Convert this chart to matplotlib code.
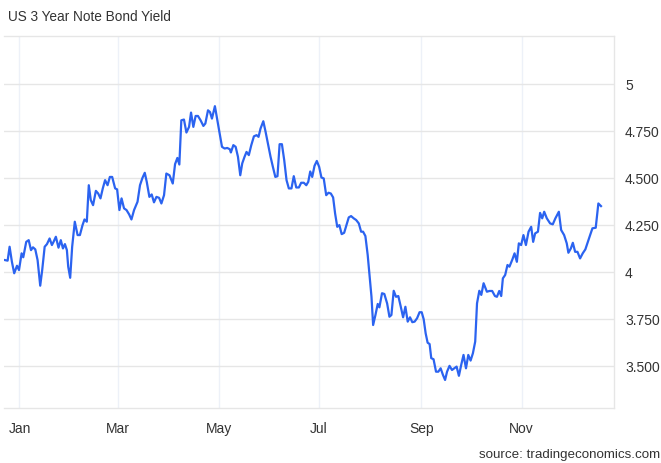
import matplotlib
matplotlib.use("Agg")
import matplotlib.pyplot as plt

# days since 2024-01-01
days = [-8.8, -7.2, -6.0, -4.6, -3.2, -1.5, -0.3, 1.3, 2.3, 4.1, 5.6, 7.0, 8.2, 9.6, 11.0, 12.6, 13.8, 15.3, 16.7, 18.3,
        19.7, 20.7, 22.1, 23.7, 25.1, 26.4, 27.6, 28.8, 29.6, 30.8, 32.0, 33.6, 35.3, 36.7, 38.3, 39.5, 40.9, 42.1, 43.3, 44.7,
        46.4, 47.8, 49.2, 50.6, 52.0, 53.5, 54.9, 56.3, 58.1, 59.3, 60.7, 62.0, 63.5, 65.0, 66.6, 68.0, 69.6, 71.7, 73.2, 74.7,
        76.1, 77.3, 78.9, 80.3, 81.7, 83.2, 84.8, 86.2, 87.8, 89.2, 91.1, 93.1, 94.5, 95.9, 97.1, 98.3, 99.9, 101.4, 103.0, 104.2,
        105.6, 107.0, 108.4, 110.0, 111.7, 112.9, 114.5, 115.7, 116.9, 118.7, 120.2, 121.8, 123.0, 124.6, 126.2, 127.8, 128.4, 129.9, 131.3, 132.7,
        134.1, 135.3, 136.7, 137.9, 139.3, 140.8, 142.4, 144.0, 145.2, 146.4, 148.1, 149.5, 150.9, 152.5, 153.9, 155.4, 156.7, 158.0, 159.4, 160.8,
        162.2, 163.6, 165.2, 166.6, 168.1, 169.7, 171.1, 172.7, 174.2, 175.4, 176.6, 177.8, 179.2, 180.6, 182.0, 183.4, 184.8, 186.3, 187.7, 189.1,
        190.5, 191.7, 193.0, 194.3, 195.7, 197.2, 198.6, 200.0, 201.4, 203.0, 204.5, 206.1, 207.5, 208.7, 210.1, 211.5, 212.7, 213.8, 214.8, 216.2,
        217.6, 218.6, 220.2, 221.6, 223.3, 224.7, 225.9, 227.3, 228.7, 230.1, 231.5, 233.0, 234.4, 235.8, 237.2, 238.6, 240.0, 241.5, 243.0, 244.3,
        245.5, 246.7, 247.9, 249.1, 250.1, 251.5, 253.0, 254.4, 255.8, 257.2, 258.5, 259.7, 261.2, 262.7, 264.1, 265.5, 266.9, 268.3, 269.7, 271.2,
        272.6, 274.0, 275.4, 276.8, 277.9, 279.3, 280.5, 281.9, 283.9, 285.5, 287.1, 288.8, 290.0, 291.4, 292.6, 293.6, 295.0, 296.4, 297.6, 299.4,
        300.7, 302.1, 303.3, 304.7, 306.1, 307.6, 309.2, 310.8, 312.0, 313.2, 314.9, 316.2, 317.5, 318.7, 320.3, 322.3, 323.9, 325.5, 327.6, 329.0,
        330.8, 332.4, 333.4, 334.9, 336.1, 337.5, 338.9, 340.5, 342.1, 343.7, 344.9, 346.6, 348.0, 350.0, 351.6, 353.2]

yields = [4.065, 4.062, 4.136, 4.056, 3.995, 4.035, 4.012, 4.101, 4.080, 4.162, 4.171, 4.118, 4.133, 4.122, 4.065, 3.929, 4.012, 4.136, 4.150, 4.180,
          4.145, 4.162, 4.189, 4.131, 4.171, 4.127, 4.150, 4.118, 4.030, 3.971, 4.136, 4.269, 4.198, 4.198, 4.251, 4.281, 4.269, 4.463, 4.384, 4.357,
          4.433, 4.419, 4.393, 4.446, 4.490, 4.463, 4.507, 4.507, 4.446, 4.441, 4.331, 4.393, 4.340, 4.331, 4.308, 4.281, 4.331, 4.375, 4.463, 4.502,
          4.529, 4.481, 4.401, 4.414, 4.372, 4.401, 4.396, 4.366, 4.410, 4.525, 4.516, 4.472, 4.575, 4.608, 4.573, 4.808, 4.812, 4.743, 4.773, 4.849,
          4.773, 4.831, 4.831, 4.808, 4.778, 4.791, 4.861, 4.852, 4.817, 4.883, 4.808, 4.729, 4.667, 4.658, 4.661, 4.654, 4.637, 4.676, 4.667, 4.614,
          4.516, 4.579, 4.614, 4.640, 4.623, 4.676, 4.723, 4.729, 4.720, 4.764, 4.803, 4.746, 4.685, 4.614, 4.561, 4.507, 4.511, 4.681, 4.681, 4.596,
          4.490, 4.446, 4.446, 4.511, 4.451, 4.451, 4.476, 4.476, 4.463, 4.481, 4.536, 4.507, 4.566, 4.592, 4.561, 4.504, 4.499, 4.410, 4.423, 4.419,
          4.398, 4.313, 4.242, 4.251, 4.203, 4.210, 4.251, 4.292, 4.299, 4.287, 4.278, 4.260, 4.216, 4.216, 4.193, 4.092, 3.977, 3.870, 3.720, 3.773,
          3.832, 3.814, 3.889, 3.885, 3.835, 3.764, 3.773, 3.902, 3.870, 3.874, 3.821, 3.761, 3.817, 3.738, 3.761, 3.735, 3.738, 3.756, 3.788, 3.788,
          3.751, 3.676, 3.626, 3.619, 3.544, 3.538, 3.472, 3.472, 3.490, 3.455, 3.428, 3.472, 3.503, 3.481, 3.490, 3.499, 3.450, 3.508, 3.561, 3.490,
          3.561, 3.531, 3.570, 3.632, 3.835, 3.902, 3.880, 3.942, 3.897, 3.901, 3.901, 3.874, 3.870, 3.901, 3.874, 3.968, 3.986, 4.039, 4.030, 4.069,
          4.101, 4.056, 4.154, 4.145, 4.198, 4.145, 4.216, 4.242, 4.162, 4.207, 4.216, 4.316, 4.287, 4.322, 4.287, 4.260, 4.255, 4.287, 4.322, 4.225,
          4.198, 4.154, 4.104, 4.127, 4.157, 4.109, 4.109, 4.074, 4.101, 4.122, 4.154, 4.198, 4.234, 4.237, 4.366, 4.352]

month_days = [0, 60, 121, 182, 244, 305]
month_labels = ["Jan", "Mar", "May", "Jul", "Sep", "Nov"]
y_ticks = [3.5, 3.75, 4.0, 4.25, 4.5, 4.75, 5.0]
y_tick_labels = ["3.500", "3.750", "4", "4.250", "4.500", "4.750", "5"]

plt.rcParams['font.family'] = ['Liberation Sans', 'DejaVu Sans']

W, H = 661, 463
fig = plt.figure(figsize=(W / 100, H / 100), dpi=100)
left, right, top, bottom = 4, 614, 36, 408
ax = fig.add_axes([left / W, 1 - bottom / H, (right - left) / W, (bottom - top) / H])

ax.plot(days, yields, color="#2b63f0", lw=1.6, solid_joinstyle="round", zorder=3)

ax.set_xlim(-9.4, 361.1)
ax.set_ylim(3.279, 5.256)

ax.set_xticks(month_days)
ax.set_xticklabels(month_labels)
ax.set_yticks(y_ticks)
ax.set_yticklabels(y_tick_labels)
ax.yaxis.tick_right()

ax.grid(axis="y", color="#e6e6e6", lw=1.0, zorder=0)
ax.grid(axis="x", color="#edf1f8", lw=1.0, zorder=0)

ax.tick_params(axis="y", length=0, pad=8, labelsize=10, labelcolor="#333333")
ax.tick_params(axis="x", length=0, pad=10, labelsize=10, labelcolor="#333333")

for s in ["left"]:
    ax.spines[s].set_visible(False)
for s in ["top", "right", "bottom"]:
    ax.spines[s].set_color("#e6e6e6")
    ax.spines[s].set_linewidth(1.0)

fig.text(8 / W, 1 - 17 / H, "US 3 Year Note Bond Yield", fontsize=9.8, color="#333333",
         ha="left", va="center")
fig.text(660 / W, 1 - 455 / H, "source: tradingeconomics.com", fontsize=9.6, color="#333333",
         ha="right", va="center")

fig.savefig("out.png", dpi=100)
